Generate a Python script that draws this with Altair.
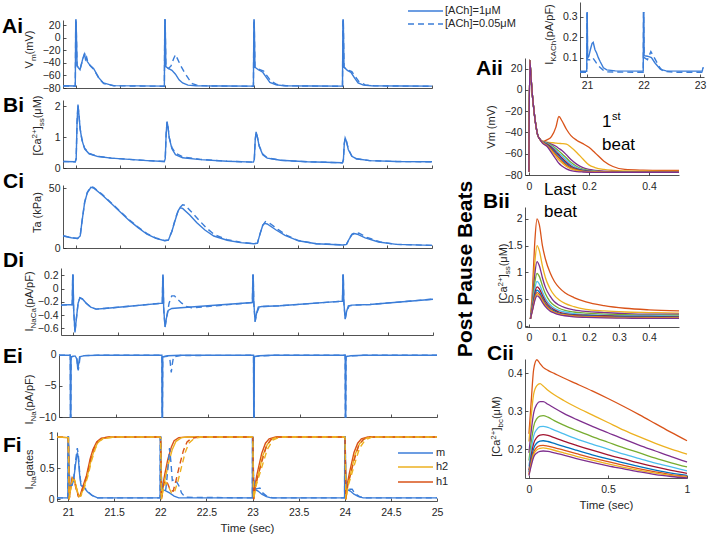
import altair as alt
import pandas as pd

W, H = 708, 538
FONT = "Liberation Sans"
INK = "#262626"
BLUE = "#3B7DD8"
YEL = "#EDB120"
ORG = "#D95319"
DASH = [6, 4]
BEAT_COLORS = ["#D95319", "#EDB120", "#7E2F8E", "#77AC30", "#4DBEEE",
               "#A2142F", "#0072BD", "#D95319", "#EDB120", "#7E2F8E"]
BEATS = ["b01", "b02", "b03", "b04", "b05", "b06", "b07", "b08", "b09", "b10"]

# ---------------- left column data: [time (s), value] ----------------
ai_solid = [[20.86,-76.5],[20.995,-76.8],[21.0,40],[21.004,40],[21.015,-44],[21.03,-48],[21.048,-51],
            [21.08,-33],[21.098,-25],[21.11,-35],[21.12,-33],[21.13,-38],[21.16,-44],[21.2,-49],[21.26,-64],
            [21.31,-72],[21.42,-76.3],[21.7,-76.6],[21.995,-77],[22.0,40],[22.004,40],[22.012,-46],[22.04,-49],
            [22.08,-52],[22.12,-58],[22.16,-67],[22.2,-72],[22.26,-75.5],[22.35,-76.5],[22.7,-76.8],[22.995,-77],
            [23.0,40],[23.004,40],[23.012,-47],[23.05,-51],[23.1,-55],[23.14,-63],[23.18,-71],[23.25,-75],
            [23.34,-76.5],[23.7,-76.8],[23.995,-77],[24.0,40],[24.004,40],[24.012,-47],[24.05,-52],[24.09,-55],
            [24.13,-64],[24.17,-72],[24.23,-75.5],[24.32,-76.5],[24.7,-76.8],[25.0,-77]]
ai_dash = [[20.86,-76.8],[20.995,-77],[21.0,40],[21.004,40],[21.015,-45],[21.03,-48],[21.048,-50],[21.078,-35],
           [21.1,-26],[21.112,-34],[21.122,-31],[21.135,-39],[21.165,-45],[21.205,-51],[21.265,-66],[21.315,-73],
           [21.43,-76.5],[21.7,-76.9],[21.995,-77.2],[22.0,40],[22.004,40],[22.012,-46],[22.04,-49],[22.07,-45],
           [22.1,-33],[22.12,-27],[22.14,-33],[22.18,-45],[22.22,-55],[22.27,-66],[22.31,-73],[22.37,-76],
           [22.5,-76.8],[22.995,-77.2],[23.0,40],[23.004,40],[23.012,-47],[23.05,-50],[23.11,-53],[23.15,-61],
           [23.19,-69],[23.26,-74.5],[23.36,-76.5],[23.7,-77],[23.995,-77.2],[24.0,40],[24.004,40],[24.012,-47],
           [24.05,-51],[24.1,-54],[24.14,-62],[24.18,-70],[24.25,-75],[24.35,-76.5],[24.7,-77],[25.0,-77.2]]

bi_solid = [[20.86,0.21],[20.995,0.2],[21.005,0.3],[21.015,1.5],[21.025,2.05],[21.035,1.75],[21.05,1.25],
            [21.07,0.9],[21.1,0.62],[21.15,0.46],[21.25,0.37],[21.4,0.32],[21.6,0.28],[21.8,0.24],[21.995,0.21],
            [22.005,0.3],[22.015,1.1],[22.025,1.5],[22.035,1.35],[22.05,0.97],[22.08,0.62],[22.12,0.43],
            [22.2,0.33],[22.4,0.27],[22.7,0.22],[22.995,0.19],[23.005,0.28],[23.015,0.9],[23.025,1.17],
            [23.04,1.0],[23.06,0.7],[23.1,0.43],[23.15,0.32],[23.3,0.25],[23.6,0.2],[23.995,0.17],[24.005,0.26],
            [24.015,0.78],[24.025,0.97],[24.04,0.86],[24.06,0.6],[24.1,0.38],[24.15,0.3],[24.3,0.24],
            [24.6,0.21],[25.0,0.2]]
bi_dash = [[20.86,0.21],[20.995,0.2],[21.005,0.3],[21.015,1.5],[21.025,2.04],[21.035,1.75],[21.05,1.26],
           [21.07,0.92],[21.1,0.64],[21.15,0.47],[21.25,0.38],[21.4,0.32],[21.6,0.28],[21.8,0.24],[21.995,0.21],
           [22.005,0.3],[22.015,1.1],[22.025,1.49],[22.035,1.36],[22.05,0.99],[22.08,0.66],[22.12,0.48],
           [22.2,0.36],[22.4,0.28],[22.7,0.22],[22.995,0.19],[23.005,0.28],[23.015,0.9],[23.025,1.16],
           [23.04,1.0],[23.06,0.72],[23.1,0.45],[23.15,0.33],[23.3,0.25],[23.6,0.2],[23.995,0.17],[24.005,0.26],
           [24.015,0.78],[24.025,0.96],[24.04,0.86],[24.06,0.62],[24.1,0.39],[24.15,0.3],[24.3,0.24],
           [24.6,0.21],[25.0,0.2]]

ci_solid = [[20.86,10],[20.95,8.5],[21.02,8],[21.05,10],[21.07,22],[21.1,38],[21.13,46],[21.17,50.5],
            [21.2,50],[21.3,44],[21.4,37],[21.5,30],[21.6,23],[21.7,17],[21.8,11.5],[21.9,8],[22.0,6],
            [22.04,6.5],[22.08,14],[22.12,24],[22.15,31],[22.17,33.5],[22.2,33],[22.28,27.5],[22.36,21],
            [22.45,15],[22.55,10],[22.7,6.5],[22.85,4.5],[23.0,3.5],[23.04,4],[23.07,12],[23.1,19],[23.12,20.5],
            [23.15,20],[23.25,15],[23.35,10.5],[23.5,6],[23.7,3.5],[24.0,2.5],[24.04,3],[24.07,7.5],[24.1,11],
            [24.13,12],[24.16,11.5],[24.25,8.5],[24.4,5],[24.6,3],[25.0,2.2]]
ci_dash = [[20.86,10.2],[20.95,8.6],[21.02,8],[21.05,10],[21.07,22],[21.1,38],[21.13,46.5],[21.17,51],
           [21.2,50.5],[21.3,44.5],[21.4,37.5],[21.5,30.5],[21.6,23.5],[21.7,17.5],[21.8,12],[21.9,8.3],
           [22.0,6.2],[22.04,6.7],[22.08,14],[22.12,25],[22.16,33],[22.2,36],[22.23,35.5],[22.3,30],
           [22.38,23.5],[22.47,16.5],[22.56,11],[22.7,7],[22.85,4.8],[23.0,3.6],[23.04,4],[23.07,12],[23.1,19],
           [23.13,22],[23.17,21],[23.27,15.5],[23.37,10.5],[23.5,6.2],[23.7,3.6],[24.0,2.6],[24.04,3],
           [24.07,7.5],[24.1,11.5],[24.14,13],[24.18,12.3],[24.27,8.8],[24.42,5],[24.6,3],[25.0,2.2]]

di_solid = [[20.87,-0.25],[20.995,-0.24],[21.0,0.2],[21.004,0.2],[21.01,-0.3],[21.025,-0.66],[21.04,-0.46],
            [21.06,-0.22],[21.08,-0.14],[21.11,-0.16],[21.15,-0.22],[21.2,-0.28],[21.26,-0.31],[21.35,-0.3],
            [21.6,-0.27],[21.995,-0.22],[22.0,0.2],[22.004,0.2],[22.01,-0.3],[22.025,-0.58],[22.04,-0.45],
            [22.06,-0.33],[22.1,-0.3],[22.2,-0.29],[22.5,-0.26],[22.995,-0.21],[23.0,0.2],[23.004,0.2],
            [23.01,-0.2],[23.025,-0.5],[23.04,-0.38],[23.06,-0.28],[23.1,-0.27],[23.3,-0.26],[23.995,-0.19],
            [24.0,0.2],[24.004,0.2],[24.01,-0.2],[24.025,-0.46],[24.04,-0.35],[24.06,-0.26],[24.1,-0.25],
            [24.3,-0.24],[25.0,-0.16]]
di_dash = [[20.87,-0.25],[20.995,-0.24],[21.0,0.2],[21.004,0.2],[21.01,-0.3],[21.025,-0.66],[21.04,-0.46],
           [21.06,-0.22],[21.08,-0.14],[21.11,-0.16],[21.15,-0.22],[21.2,-0.28],[21.26,-0.31],[21.35,-0.3],
           [21.6,-0.27],[21.995,-0.22],[22.0,0.2],[22.004,0.2],[22.01,-0.3],[22.025,-0.58],[22.04,-0.45],
           [22.07,-0.22],[22.1,-0.11],[22.13,-0.11],[22.17,-0.17],[22.21,-0.22],[22.26,-0.27],[22.32,-0.29],
           [22.5,-0.27],[22.995,-0.21],[23.0,0.2],[23.004,0.2],[23.01,-0.2],[23.025,-0.5],[23.04,-0.38],
           [23.07,-0.28],[23.12,-0.27],[23.3,-0.26],[23.995,-0.19],[24.0,0.2],[24.004,0.2],[24.01,-0.2],
           [24.025,-0.46],[24.04,-0.35],[24.07,-0.26],[24.12,-0.25],[24.3,-0.24],[25.0,-0.16]]

ei_solid = [[20.875,-0.05],[20.998,-0.05],[21.0,-60],[21.004,-60],[21.007,-0.3],[21.05,-0.15],[21.07,-0.6],
            [21.08,-2.3],[21.09,-1.4],[21.1,-0.3],[21.15,-0.1],[21.3,-0.05],[21.998,-0.05],[22.0,-60],
            [22.004,-60],[22.007,-0.3],[22.06,-0.12],[22.2,-0.05],[22.998,-0.05],[23.0,-60],[23.004,-60],
            [23.007,-0.25],[23.06,-0.12],[23.2,-0.05],[23.998,-0.05],[24.0,-60],[24.004,-60],[24.007,-0.25],
            [24.06,-0.12],[24.2,-0.05],[25.0,-0.05]]
ei_dash = [[20.875,-0.05],[20.998,-0.05],[21.0,-60],[21.004,-60],[21.007,-0.3],[21.05,-0.15],[21.07,-0.7],
           [21.085,-2.5],[21.095,-1.5],[21.105,-0.3],[21.15,-0.1],[21.3,-0.05],[21.998,-0.05],[22.0,-60],
           [22.004,-60],[22.007,-0.3],[22.06,-0.2],[22.085,-0.7],[22.1,-2.8],[22.11,-1.6],[22.125,-0.3],
           [22.2,-0.08],[22.998,-0.05],[23.0,-60],[23.004,-60],[23.007,-0.25],[23.07,-0.15],[23.2,-0.05],
           [23.998,-0.05],[24.0,-60],[24.004,-60],[24.007,-0.25],[24.07,-0.15],[24.2,-0.05],[25.0,-0.05]]

fi_m_solid = [[20.88,0.02],[20.998,0.02],[21.0,1.0],[21.004,1.0],[21.01,0.5],[21.02,0.2],[21.04,0.22],
              [21.06,0.3],[21.08,0.55],[21.1,0.75],[21.11,0.68],[21.125,0.4],[21.14,0.22],[21.17,0.19],
              [21.21,0.12],[21.26,0.06],[21.32,0.02],[21.998,0.02],[22.0,1.0],[22.004,1.0],[22.01,0.4],
              [22.02,0.15],[22.05,0.14],[22.1,0.1],[22.15,0.05],[22.2,0.02],[22.998,0.02],[23.0,1.0],
              [23.004,1.0],[23.01,0.4],[23.02,0.16],[23.06,0.13],[23.1,0.08],[23.15,0.04],[23.2,0.02],
              [23.998,0.02],[24.0,1.0],[24.004,1.0],[24.01,0.4],[24.02,0.16],[24.06,0.13],[24.1,0.08],
              [24.15,0.04],[24.2,0.02],[25.0,0.02]]
fi_m_dash = [[20.88,0.02],[20.998,0.02],[21.0,1.0],[21.004,1.0],[21.01,0.5],[21.02,0.2],[21.04,0.22],
             [21.06,0.32],[21.08,0.6],[21.1,0.82],[21.112,0.7],[21.127,0.4],[21.142,0.22],[21.17,0.2],
             [21.21,0.13],[21.26,0.06],[21.32,0.02],[21.998,0.02],[22.0,1.0],[22.004,1.0],[22.01,0.4],
             [22.02,0.15],[22.06,0.16],[22.08,0.45],[22.1,0.82],[22.115,0.6],[22.13,0.3],[22.16,0.32],
             [22.2,0.22],[22.23,0.1],[22.27,0.03],[22.998,0.02],[23.0,1.0],[23.004,1.0],[23.01,0.4],
             [23.02,0.16],[23.05,0.17],[23.08,0.18],[23.11,0.1],[23.16,0.04],[23.22,0.02],[23.998,0.02],
             [24.0,1.0],[24.004,1.0],[24.01,0.4],[24.02,0.16],[24.05,0.16],[24.08,0.16],[24.11,0.09],
             [24.16,0.04],[24.22,0.02],[25.0,0.02]]
fi_h1_solid = [[20.88,1.0],[20.998,0.99],[21.003,0.99],[21.012,0.0],[21.03,0.22],[21.045,0.35],[21.065,0.33],
               [21.09,0.18],[21.11,0.05],[21.13,0.06],[21.16,0.2],[21.2,0.38],[21.24,0.65],[21.27,0.8],
               [21.31,0.92],[21.36,0.98],[21.45,1.0],[21.998,1.0],[22.003,0.99],[22.012,0.0],[22.03,0.25],
               [22.05,0.41],[22.08,0.63],[22.12,0.84],[22.15,0.94],[22.2,0.99],[22.3,1.0],[22.998,1.0],
               [23.003,0.99],[23.012,0.0],[23.03,0.25],[23.05,0.41],[23.1,0.74],[23.14,0.9],[23.18,0.97],
               [23.25,1.0],[23.998,1.0],[24.003,0.99],[24.012,0.0],[24.03,0.26],[24.05,0.42],[24.1,0.75],
               [24.14,0.9],[24.18,0.97],[24.25,1.0],[25.0,1.0]]
fi_h2_solid = [[20.88,1.0],[20.998,0.99],[21.003,0.99],[21.012,0.0],[21.03,0.2],[21.05,0.34],[21.07,0.31],
               [21.095,0.16],[21.115,0.05],[21.135,0.05],[21.17,0.18],[21.21,0.38],[21.25,0.63],[21.29,0.82],
               [21.33,0.93],[21.39,0.98],[21.5,1.0],[21.998,1.0],[22.003,0.99],[22.012,0.0],[22.035,0.22],
               [22.06,0.38],[22.09,0.58],[22.13,0.8],[22.17,0.93],[22.23,0.99],[22.3,1.0],[22.998,1.0],
               [23.003,0.99],[23.012,0.0],[23.035,0.22],[23.06,0.38],[23.11,0.7],[23.16,0.88],[23.21,0.97],
               [23.28,1.0],[23.998,1.0],[24.003,0.99],[24.012,0.0],[24.035,0.23],[24.06,0.39],[24.11,0.71],
               [24.16,0.89],[24.21,0.97],[24.28,1.0],[25.0,1.0]]
fi_h1_dash = [[20.88,1.0],[20.998,0.99],[21.003,0.99],[21.012,0.0],[21.03,0.2],[21.045,0.33],[21.065,0.3],
              [21.09,0.15],[21.115,0.04],[21.135,0.06],[21.165,0.2],[21.205,0.38],[21.245,0.65],[21.275,0.8],
              [21.315,0.92],[21.365,0.98],[21.45,1.0],[21.998,1.0],[22.003,0.99],[22.012,0.0],[22.03,0.2],
              [22.05,0.3],[22.08,0.25],[22.11,0.14],[22.14,0.13],[22.17,0.3],[22.21,0.55],[22.25,0.78],
              [22.29,0.92],[22.34,0.98],[22.42,1.0],[22.998,1.0],[23.003,0.99],[23.012,0.0],[23.03,0.22],
              [23.055,0.35],[23.1,0.6],[23.15,0.85],[23.2,0.96],[23.27,1.0],[23.998,1.0],[24.003,0.99],
              [24.012,0.0],[24.03,0.23],[24.055,0.36],[24.1,0.62],[24.15,0.86],[24.2,0.96],[24.27,1.0],[25.0,1.0]]
fi_h2_dash = [[20.88,1.0],[20.998,0.99],[21.003,0.99],[21.012,0.0],[21.03,0.18],[21.05,0.32],[21.07,0.29],
              [21.095,0.14],[21.12,0.04],[21.14,0.05],[21.175,0.18],[21.215,0.37],[21.255,0.62],[21.295,0.81],
              [21.335,0.93],[21.395,0.98],[21.5,1.0],[21.998,1.0],[22.003,0.99],[22.012,0.0],[22.035,0.18],
              [22.06,0.27],[22.09,0.2],[22.12,0.1],[22.15,0.1],[22.19,0.28],[22.23,0.52],[22.27,0.75],
              [22.31,0.9],[22.37,0.98],[22.45,1.0],[22.998,1.0],[23.003,0.99],[23.012,0.0],[23.035,0.2],
              [23.06,0.32],[23.11,0.56],[23.16,0.8],[23.22,0.95],[23.3,1.0],[23.998,1.0],[24.003,0.99],
              [24.012,0.0],[24.035,0.21],[24.06,0.33],[24.11,0.58],[24.16,0.82],[24.22,0.95],[24.3,1.0],[25.0,1.0]]

ikach_solid = [[20.876,0.033],[20.995,0.033],[21.0,0.32],[21.004,0.32],[21.01,0.1],[21.03,0.105],[21.06,0.14],
               [21.09,0.17],[21.11,0.175],[21.14,0.14],[21.17,0.123],[21.2,0.1],[21.23,0.082],[21.29,0.05],
               [21.35,0.04],[21.5,0.035],[21.995,0.034],[22.0,0.32],[22.004,0.32],[22.01,0.11],[22.07,0.107],
               [22.14,0.1],[22.2,0.075],[22.3,0.042],[22.4,0.035],[22.7,0.034],[23.04,0.034],[23.05,0.05],
               [23.07,0.05]]
ikach_dash = [[20.876,0.028],[20.995,0.028],[21.0,0.32],[21.004,0.32],[21.01,0.09],[21.05,0.09],[21.1,0.1],
              [21.15,0.08],[21.2,0.06],[21.28,0.04],[21.35,0.03],[21.995,0.028],[22.0,0.32],[22.004,0.32],
              [22.01,0.1],[22.07,0.09],[22.13,0.13],[22.2,0.095],[22.29,0.05],[22.35,0.033],[22.6,0.028],
              [23.07,0.028]]

# ---------------- right column data: post-pause beats 1..10 ----------------
aii_t = [0, 0.003, 0.007, 0.011, 0.014, 0.022, 0.029, 0.037, 0.045, 0.06, 0.075, 0.09, 0.1, 0.11, 0.125,
         0.14, 0.16, 0.18, 0.2, 0.22, 0.25, 0.28, 0.32, 0.38, 0.44, 0.5]
aii_vm = [
    [-77,28,12,-3,-12,-31,-42,-46.5,-48.5,-47,-44,-35,-25,-29,-37,-43,-47.5,-50.5,-54,-59,-67,-72,-74.8,-75.4,-75.6,-75.7],
    [-77,28,12,-3,-12,-31,-42,-46.5,-48.5,-49,-49.5,-50,-50.3,-50.5,-51,-54,-59,-65,-70.5,-73,-74.8,-75.6,-76.1,-76.4,-76.5,-76.6],
    [-77,28,12,-3,-12,-31,-42,-46.5,-48.5,-49.5,-51,-53,-55,-57,-61,-65.5,-70,-73,-74.8,-75.6,-76.3,-76.7,-76.9,-77,-77.1,-77.1],
    [-77,28,12,-3,-12,-31,-42,-46.5,-48.6,-50,-52,-55,-57.5,-60,-64,-68,-72,-74.5,-75.7,-76.3,-76.8,-77,-77.1,-77.2,-77.2,-77.2],
    [-77,28,12,-3,-12,-31,-42,-46.5,-48.7,-50.5,-53,-56.5,-59.5,-62,-66,-70,-73.3,-75.2,-76.1,-76.6,-77,-77.2,-77.3,-77.3,-77.3,-77.3],
    [-77,28,12,-3,-12,-31,-42,-46.5,-48.8,-51,-54,-58,-61,-64,-68,-71.5,-74.2,-75.7,-76.4,-76.8,-77.1,-77.3,-77.4,-77.4,-77.4,-77.4],
    [-77,28,12,-3,-12,-31,-42,-46.5,-49,-51.5,-55,-59.5,-62.5,-65.5,-69.5,-72.5,-74.8,-76,-76.6,-77,-77.2,-77.4,-77.4,-77.5,-77.5,-77.5],
    [-77,28,12,-3,-12,-31,-42,-46.5,-49.2,-52,-56,-61,-64,-67,-70.7,-73.3,-75.3,-76.3,-76.8,-77.1,-77.3,-77.4,-77.5,-77.5,-77.5,-77.5],
    [-77,28,12,-3,-12,-31,-42,-46.5,-49.5,-52.5,-57.5,-62.5,-66,-68.5,-72,-74.2,-75.8,-76.6,-77,-77.2,-77.4,-77.5,-77.5,-77.6,-77.6,-77.6],
    [-77,28,12,-3,-12,-31,-42,-46.5,-50,-53,-59,-65,-69,-71.5,-74.2,-75.8,-76.8,-77.2,-77.4,-77.5,-77.5,-77.6,-77.6,-77.6,-77.6,-77.6],
]
bii_t = [0.005, 0.012, 0.02, 0.027, 0.035, 0.045, 0.055, 0.07, 0.085, 0.1, 0.12, 0.15, 0.19, 0.25, 0.32, 0.4, 0.5]
bii_ca = [
    [0.13,0.7,1.6,2.0,1.88,1.5,1.25,1.0,0.83,0.72,0.62,0.53,0.45,0.38,0.33,0.3,0.28],
    [0.13,0.55,1.2,1.5,1.4,1.12,0.9,0.7,0.57,0.49,0.42,0.36,0.31,0.28,0.26,0.25,0.24],
    [0.13,0.48,0.98,1.2,1.12,0.9,0.72,0.56,0.45,0.39,0.34,0.3,0.27,0.25,0.23,0.22,0.22],
    [0.13,0.42,0.82,0.98,0.92,0.75,0.6,0.46,0.38,0.33,0.29,0.26,0.24,0.22,0.21,0.2,0.2],
    [0.13,0.38,0.7,0.83,0.78,0.64,0.51,0.4,0.33,0.29,0.26,0.23,0.21,0.2,0.19,0.19,0.18],
    [0.13,0.35,0.62,0.73,0.69,0.57,0.46,0.36,0.3,0.26,0.23,0.21,0.2,0.19,0.18,0.18,0.17],
    [0.13,0.33,0.57,0.67,0.63,0.52,0.42,0.33,0.28,0.24,0.22,0.2,0.19,0.18,0.17,0.17,0.16],
    [0.13,0.31,0.53,0.62,0.59,0.49,0.4,0.31,0.26,0.23,0.21,0.19,0.18,0.17,0.16,0.16,0.15],
    [0.13,0.3,0.5,0.59,0.56,0.47,0.38,0.3,0.25,0.22,0.2,0.18,0.17,0.16,0.155,0.15,0.15],
    [0.13,0.29,0.48,0.56,0.53,0.44,0.36,0.28,0.24,0.21,0.19,0.17,0.16,0.15,0.145,0.14,0.14],
]
cii_t = [0.0, 0.015, 0.03, 0.05, 0.07, 0.09, 0.12, 0.16, 0.22, 0.3, 0.4, 0.5, 0.6, 0.7, 0.8, 0.9, 1.0]
cii_ca = [
    [0.24,0.33,0.41,0.435,0.425,0.415,0.407,0.399,0.387,0.372,0.353,0.333,0.312,0.29,0.267,0.244,0.222],
    [0.22,0.29,0.345,0.367,0.372,0.366,0.355,0.343,0.328,0.31,0.29,0.27,0.25,0.232,0.215,0.2,0.187],
    [0.19,0.25,0.295,0.318,0.325,0.325,0.318,0.308,0.294,0.278,0.26,0.243,0.226,0.21,0.195,0.18,0.166],
    [0.17,0.22,0.26,0.28,0.287,0.288,0.284,0.275,0.263,0.249,0.233,0.218,0.203,0.19,0.176,0.164,0.153],
    [0.155,0.2,0.235,0.252,0.259,0.26,0.257,0.25,0.24,0.227,0.213,0.2,0.187,0.175,0.163,0.153,0.143],
    [0.145,0.185,0.215,0.231,0.237,0.238,0.236,0.23,0.221,0.21,0.197,0.185,0.174,0.163,0.153,0.144,0.136],
    [0.14,0.175,0.202,0.216,0.221,0.222,0.22,0.215,0.207,0.197,0.185,0.174,0.164,0.154,0.145,0.137,0.131],
    [0.135,0.167,0.192,0.205,0.209,0.21,0.208,0.204,0.197,0.188,0.177,0.167,0.157,0.148,0.14,0.133,0.128],
    [0.132,0.162,0.186,0.198,0.202,0.203,0.201,0.197,0.19,0.181,0.171,0.161,0.152,0.144,0.137,0.131,0.126],
    [0.13,0.157,0.179,0.19,0.194,0.195,0.194,0.19,0.184,0.175,0.165,0.156,0.148,0.14,0.133,0.128,0.124],
]

LEFT_XTICKS = [21, 21.5, 22, 22.5, 23, 23.5, 24, 24.5, 25]

# ---------------- helpers ----------------
def pts_df(pts):
    return pd.DataFrame(pts, columns=["t", "v"])

def long_df(times, rows):
    recs = []
    for name, vals in zip(BEATS, rows):
        assert len(vals) == len(times)
        for t, v in zip(times, vals):
            recs.append({"t": t, "v": v, "beat": name})
    return pd.DataFrame(recs)

NUMFMT = ".6~g"

def panel(spec, traces=None, long=None):
    xdom, xr, ydom, yr = spec["xdom"], spec["xr"], spec["ydom"], spec["yr"]
    xs = alt.Scale(domain=xdom, range=xr, clamp=True, nice=False, zero=False)
    ys = alt.Scale(domain=ydom, range=[yr[1], yr[0]], clamp=True, nice=False, zero=False)
    xa = dict(orient="bottom", offset=yr[1] - H, values=spec["xticks"], ticks=False, tickSize=0,
              labels=spec.get("xlabels", False), labelPadding=spec.get("xpad", 6), format=NUMFMT,
              labelFlush=False, labelOverlap=False, grid=False, domainColor=INK, domainWidth=0.8)
    if spec.get("xtitle"):
        xa.update(title=spec["xtitle"], titlePadding=5, titleFontSize=11.5, titleFontWeight="normal",
                  titleColor=INK)
    else:
        xa["title"] = None
    ya = dict(orient="left", offset=-xr[0], values=spec["yticks"], ticks=False, tickSize=0,
              labelPadding=3, format=NUMFMT, labelOverlap=False, grid=False, title=None,
              domainColor=INK, domainWidth=0.8)
    xt = alt.Axis(orient="top", offset=-yr[1], values=spec["xticks"], labels=False, domain=False,
                  tickSize=3, tickColor=INK, tickWidth=0.8, grid=False, title=None)
    yt = alt.Axis(orient="right", offset=xr[0] - W, values=spec["yticks"], labels=False, domain=False,
                  tickSize=3, tickColor=INK, tickWidth=0.8, grid=False, title=None)
    layers = []
    if long is not None:
        df = long
        layers.append(alt.Chart(df).mark_line(strokeWidth=1.3, interpolate="monotone").encode(
            x=alt.X("t:Q", scale=xs, axis=alt.Axis(**xa)),
            y=alt.Y("v:Q", scale=ys, axis=alt.Axis(**ya)),
            color=alt.Color("beat:N", scale=alt.Scale(domain=BEATS, range=BEAT_COLORS), legend=None),
        ))
        tick_df = df
    else:
        for i, (pts, color, dash, sw) in enumerate(traces):
            mk = dict(color=color, strokeWidth=sw)
            if dash:
                mk["strokeDash"] = DASH
            if i == 0:
                xe = alt.X("t:Q", scale=xs, axis=alt.Axis(**xa))
                ye = alt.Y("v:Q", scale=ys, axis=alt.Axis(**ya))
            else:
                xe = alt.X("t:Q", scale=xs, axis=None)
                ye = alt.Y("v:Q", scale=ys, axis=None)
            layers.append(alt.Chart(pts_df(pts)).mark_line(**mk).encode(x=xe, y=ye))
        tick_df = pts_df(traces[0][0])
    layers.append(alt.Chart(tick_df).mark_line(opacity=0).encode(
        x=alt.X("t:Q", scale=xs, axis=xt), y=alt.Y("v:Q", scale=ys, axis=yt)))
    return alt.layer(*layers).resolve_scale(x="shared", y="shared").resolve_axis(
        x="independent", y="independent")

ONE = pd.DataFrame({"k": [0]})

def txt(s, x, y, size=11, bold=False, angle=None, align="left", baseline="alphabetic", color=INK):
    kw = dict(text=s, font=FONT, fontSize=size, align=align, baseline=baseline, color=color)
    if bold:
        kw["fontWeight"] = "bold"
    if angle is not None:
        kw["angle"] = angle
    return alt.Chart(ONE).mark_text(**kw).encode(x=alt.value(x), y=alt.value(y))

CW = {' ': .278, '(': .333, ')': .333, '[': .278, ']': .278, '/': .278, '+': .584, '.': .278, '-': .333,
      'A': .667, 'B': .667, 'C': .722, 'F': .611, 'I': .278, 'K': .667, 'M': .833, 'N': .722, 'P': .667,
      'T': .611, 'V': .667, 'a': .556, 'b': .556, 'c': .5, 'e': .556, 'g': .556, 'h': .556, 'k': .5,
      'm': .833, 'p': .556, 's': .5, 't': .278, 'μ': .576}

def tw(s, size):
    return sum(CW.get(c, .556) for c in s) * size

def vtitle(segs, xb, yc):
    total = sum(tw(s, sz) for s, sz, dx in segs)
    y = yc + total / 2
    out = []
    for s, sz, dx in segs:
        out.append(txt(s, xb + dx, y, size=sz, angle=270))
        y -= tw(s, sz)
    return out

# ---------------- panels ----------------
specs = {
    "Ai": dict(xdom=[20.857, 25.0], xr=[63, 432], ydom=[-80, 28], yr=[20, 88],
               xticks=LEFT_XTICKS, yticks=[-80, -60, -40, -20, 0, 20]),
    "Bi": dict(xdom=[20.857, 25.0], xr=[63, 432], ydom=[0, 2.2], yr=[100, 168],
               xticks=LEFT_XTICKS, yticks=[0, 1, 2]),
    "Ci": dict(xdom=[20.857, 25.0], xr=[63, 432], ydom=[0, 52.5], yr=[185, 248],
               xticks=LEFT_XTICKS, yticks=[0, 50]),
    "Di": dict(xdom=[20.87, 25.0], xr=[61, 433], ydom=[-0.7, 0.31], yr=[268, 335],
               xticks=LEFT_XTICKS, yticks=[-0.6, -0.4, -0.2, 0, 0.2]),
    "Ei": dict(xdom=[20.875, 25.0], xr=[59, 437], ydom=[-10, 0.16], yr=[354, 417],
               xticks=LEFT_XTICKS, yticks=[-10, -5, 0]),
    "Fi": dict(xdom=[20.88, 25.0], xr=[57, 437], ydom=[-0.03, 1.08], yr=[432, 501],
               xticks=LEFT_XTICKS, yticks=[0, 0.5, 1], xlabels=True, xpad=6, xtitle="Time (sec)"),
    "In": dict(xdom=[20.876, 23.07], xr=[580, 704], ydom=[0.005, 0.373], yr=[2, 77],
               xticks=[21, 22, 23], yticks=[0.1, 0.2, 0.3], xlabels=True, xpad=3),
    "Aii": dict(xdom=[-0.013, 0.5], xr=[525, 679], ydom=[-80, 30], yr=[58, 175],
                xticks=[0, 0.2, 0.4], yticks=[-80, -60, -40, -20, 0, 20], xlabels=True, xpad=6),
    "Bii": dict(xdom=[-0.013, 0.5], xr=[525, 679], ydom=[-0.02, 2.22], yr=[207, 327],
                xticks=[0, 0.1, 0.2, 0.3, 0.4], yticks=[0, 0.5, 1, 1.5, 2], xlabels=True, xpad=5),
    "Cii": dict(xdom=[-0.025, 1.0], xr=[525, 687], ydom=[0.124, 0.437], yr=[359, 478],
                xticks=[0, 0.5, 1], yticks=[0.2, 0.3, 0.4], xlabels=True, xpad=6, xtitle="Time (sec)"),
}

LW = 1.4
panels = [
    panel(specs["Ai"], [(ai_solid, BLUE, False, LW), (ai_dash, BLUE, True, LW)]),
    panel(specs["Bi"], [(bi_solid, BLUE, False, LW), (bi_dash, BLUE, True, LW)]),
    panel(specs["Ci"], [(ci_solid, BLUE, False, LW), (ci_dash, BLUE, True, LW)]),
    panel(specs["Di"], [(di_solid, BLUE, False, LW), (di_dash, BLUE, True, LW)]),
    panel(specs["Ei"], [(ei_solid, BLUE, False, LW), (ei_dash, BLUE, True, LW)]),
    panel(specs["Fi"], [(fi_m_solid, BLUE, False, LW), (fi_h1_solid, ORG, False, LW),
                        (fi_h2_solid, YEL, False, LW), (fi_m_dash, BLUE, True, LW),
                        (fi_h1_dash, ORG, True, LW), (fi_h2_dash, YEL, True, LW)]),
    panel(specs["In"], [(ikach_solid, BLUE, False, LW), (ikach_dash, BLUE, True, LW)]),
    panel(specs["Aii"], long=long_df(aii_t, aii_vm)),
    panel(specs["Bii"], long=long_df(bii_t, bii_ca)),
    panel(specs["Cii"], long=long_df(cii_t, cii_ca)),
]

# ---------------- annotations ----------------
ann = []
for lab, x, y in [("Ai", 2, 33), ("Bi", 3, 112), ("Ci", 3, 188), ("Di", 3, 267), ("Ei", 3, 363),
                  ("Fi", 3, 452), ("Aii", 476, 75), ("Bii", 483, 208), ("Cii", 487, 360)]:
    ann.append(txt(lab, x, y, size=21, bold=True, color="#000"))
ann.append(txt("Post Pause Beats", 472, 269, size=21, bold=True, angle=270, align="center", color="#000"))
ann += [txt("1", 602, 127, size=17, color="#000"), txt("st", 612, 120, size=11, color="#000"),
        txt("beat", 602, 150, size=17, color="#000"),
        txt("Last", 544, 195, size=17, color="#000"), txt("beat", 544, 217, size=17, color="#000")]

ann += vtitle([("V", 11, 0), ("m", 8, 3), (" (mV)", 11, 0)], 33, 48)
ann += vtitle([("[Ca", 11, 0), ("2+", 8, -4), ("]", 11, 0), ("ss", 8, 3), (" (μM)", 11, 0)], 41, 124)
ann += vtitle([("Ta (kPa)", 11, 0)], 41, 212)
ann += vtitle([("I", 11, 0), ("NaCa", 8, 3), (" (pA/pF)", 11, 0)], 33, 300)
ann += vtitle([("I", 11, 0), ("Na", 8, 3), (" (pA/pF)", 11, 0)], 33, 398)
ann += vtitle([("I", 11, 0), ("Na", 8, 3), (" gates", 11, 0)], 33, 468)
ann += vtitle([("I", 11, 0), ("KACh", 8, 3), (" (pA/pF)", 11, 0)], 553, 33)
ann += vtitle([("Vm (mV)", 11, 0)], 495, 127)
ann += vtitle([("[Ca", 11, 0), ("2+", 8, -4), ("]", 11, 0), ("ss", 8, 3), (" (μM)", 11, 0)], 507, 272)
ann += vtitle([("[Ca", 11, 0), ("2+", 8, -4), ("]", 11, 0), ("bc", 8, 3), (" (μM)", 11, 0)], 500, 425)

# legends
def leg_line(x1, x2, y, color, dash=False):
    kw = dict(color=color, strokeWidth=LW)
    if dash:
        kw["strokeDash"] = DASH
    return alt.Chart(ONE).mark_rule(**kw).encode(x=alt.value(x1), x2=alt.value(x2), y=alt.value(y))

ann += [leg_line(408, 443, 11, BLUE), leg_line(408, 443, 24, BLUE, True),
        txt("[ACh]=1μM", 445, 11, baseline="middle"), txt("[ACh]=0.05μM", 445, 24, baseline="middle")]
for name, color, y in [("m", BLUE, 453), ("h2", YEL, 467), ("h1", ORG, 482)]:
    ann += [leg_line(398, 433, y, color), txt(name, 436, y, baseline="middle")]

chart = alt.layer(*panels, *ann).resolve_scale(x="independent", y="independent").properties(
    width=W, height=H, autosize=alt.AutoSizeParams(type="none"), padding=0
).configure_view(stroke=None).configure_axis(
    labelFont=FONT, titleFont=FONT, labelColor=INK, titleColor=INK, labelFontSize=10.5, grid=False
)

chart.save("out.html", embed_options={"renderer": "svg", "actions": False})
